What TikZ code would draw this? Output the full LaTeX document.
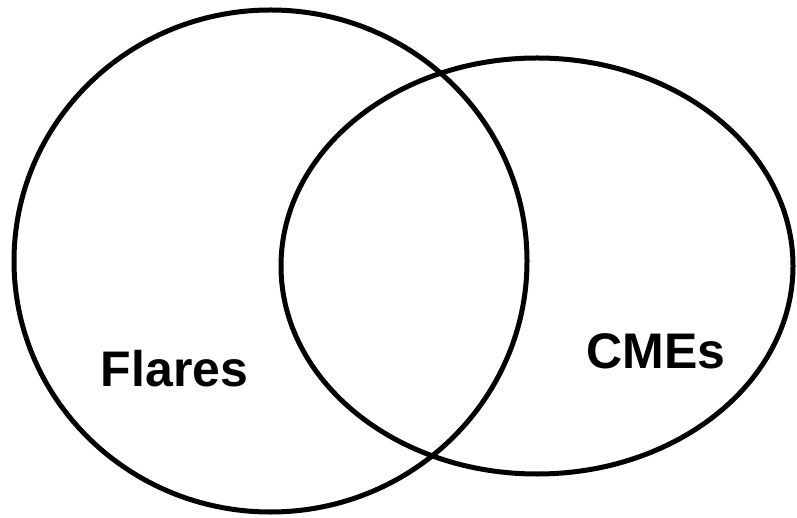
\documentclass[tikz,border=0pt]{standalone}
\usepackage{fontspec}
\setmainfont{Liberation Sans}
\usetikzlibrary{positioning}

\tikzset{
  setline/.style={black, line width=5pt},
  setlabel/.style={font=\bfseries\fontsize{50}{60}\selectfont, anchor=base, inner sep=0pt}
}

\begin{document}
\begin{tikzpicture}[x=1pt,y=-1pt,line cap=round,line join=round]
  \useasboundingbox (0,0) rectangle (797,518);

  % The two sets
  \draw[setline] (270.5,261) ellipse [x radius=256.5, y radius=251];
  \draw[setline] (537,266) ellipse [x radius=256, y radius=208];

  % Set names
  \node[setlabel] (flares) at (174.5,386) {Flares};
  \node[setlabel] (cmes) at (656,368) {CMEs};
\end{tikzpicture}
\end{document}
